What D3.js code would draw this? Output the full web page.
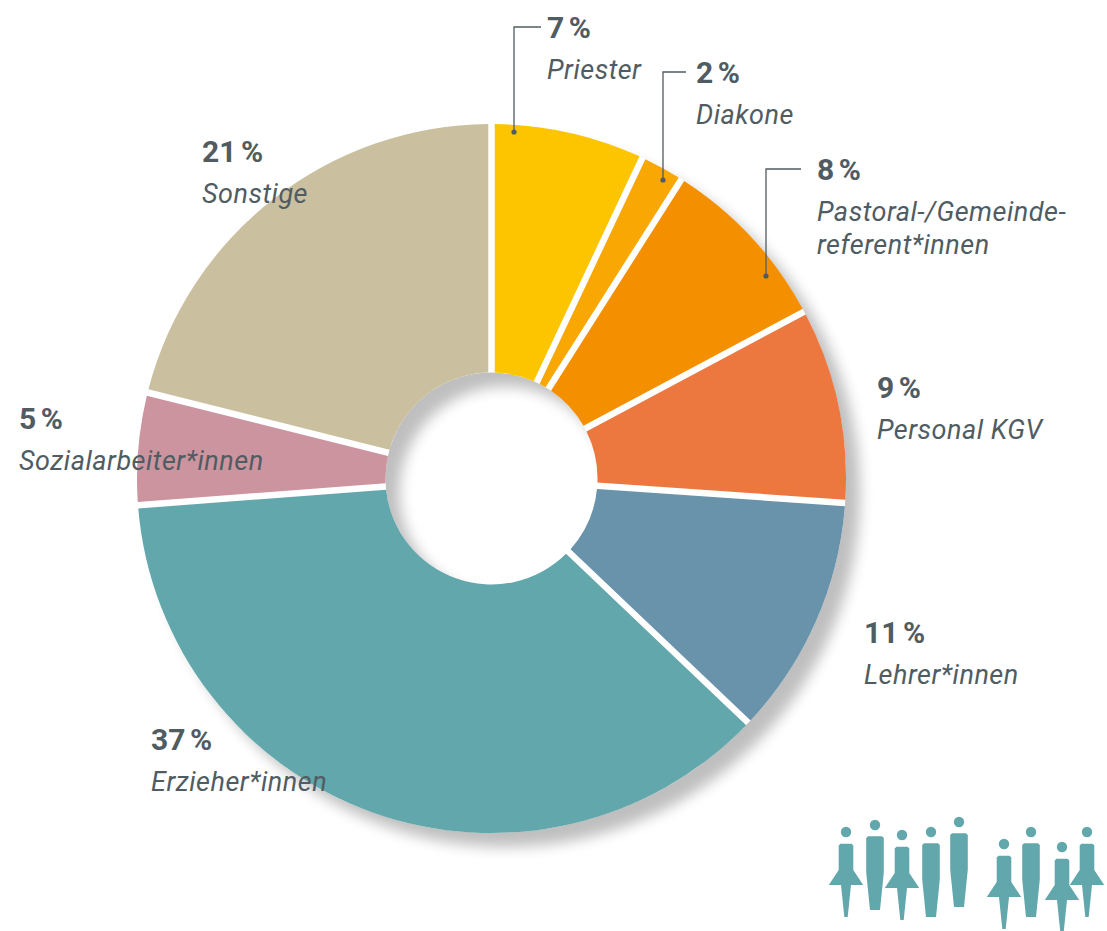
<!DOCTYPE html>
<html><head><meta charset="utf-8">
<script src="https://cdn.jsdelivr.net/npm/d3@7"></script>
<style>html,body{margin:0;background:#fff}svg{display:block}
text{font-family:Roboto,sans-serif;fill:#505c62}
.p{font-weight:700;font-size:30px;word-spacing:-3px}.n{font-style:italic;font-size:27px;letter-spacing:.5px}</style>
</head><body><svg id="c" width="1107" height="931"></svg>
<script>
const categories=["Priester","Diakone","Pastoral-/Gemeindereferent*innen","Personal KGV","Lehrer*innen","Erzieher*innen","Sozialarbeiter*innen","Sonstige"];
const shares=[7,2,8.2,8.9,11,36.7,5.1,21.1];
const percentLabels=["7 %","2 %","8 %","9 %","11 %","37 %","5 %","21 %"];
const nameLines=[["Priester"],["Diakone"],["Pastoral-/Gemeinde-","referent*innen"],["Personal KGV"],["Lehrer*innen"],["Erzieher*innen"],["Sozialarbeiter*innen"],["Sonstige"]];
const colors=["#fdc500","#f9a703","#f49000","#ec7840","#6893aa","#61a7ab","#cc949f","#cabf9e"];
const labelX=[547,696,817,877,864,151,19,202];
const labelY=[38,83,180,398,643,750,429,162];
const leaders=[[[541,27],[514,27],[514,132]],[[686,72],[663,72],[663,180]],[[801,169],[766,169],[766,276]]];
const people=[["s",846,832],["t",875,825],["s",902,835],["t",931,832],["t",959,822],["s",1004,844],["t",1031,832],["s",1062,847],["s",1087,832]];

const svg=d3.select("#c"),cx=491.5,cy=478.5,R=354.5,r=106;
const defs=svg.append("defs");
defs.append("filter").attr("id","blur").attr("x","-20%").attr("y","-20%").attr("width","140%").attr("height","140%")
  .append("feGaussianBlur").attr("stdDeviation",7);
const g=svg.append("g").attr("transform",`translate(${cx},${cy})`);
const ring=d3.arc().innerRadius(r).outerRadius(R).startAngle(0).endAngle(2*Math.PI);
g.append("path").attr("d",ring()).attr("fill","#000").attr("opacity",.25).attr("filter","url(#blur)").attr("transform","translate(14,14)");
g.append("path").attr("d",ring()).attr("fill","#fff");
const pie=d3.pie().sort(null).value(d=>d)(shares);
const arc=d3.arc().innerRadius(r).outerRadius(R).padAngle(6.5/R).padRadius(R);
g.selectAll(".s").data(pie).join("path").attr("class","s").attr("d",arc).attr("fill",(d,i)=>colors[i]);

const line=d3.line();
svg.selectAll(".l").data(leaders).join("path").attr("class","l").attr("d",line).attr("fill","none").attr("stroke","#505c62").attr("stroke-width",1.3);
svg.selectAll(".d").data(leaders).join("circle").attr("class","d").attr("cx",d=>d[2][0]).attr("cy",d=>d[2][1]).attr("r",2.6).attr("fill","#505c62");

categories.forEach((c,i)=>{
  svg.append("text").attr("class","p").attr("x",labelX[i]).attr("y",labelY[i]).text(percentLabels[i]);
  nameLines[i].forEach((t,j)=>svg.append("text").attr("class","n").attr("x",labelX[i]).attr("y",labelY[i]+41+j*33).text(t));
});

const fig=svg.append("g").attr("fill","#61a7ab");
people.forEach(([k,x,h])=>{
  fig.append("circle").attr("cx",x).attr("cy",h).attr("r",5.2);
  const pts=k==="s"
   ?[[-5.5,11.7],[5.5,11.7],[7.3,13.5],[7.3,38],[17.2,53],[5,53],[1.7,85],[-1.7,85],[-5,53],[-17.2,53],[-7.3,38],[-7.3,13.5]]
   :[[-7,11.3],[7,11.3],[8.8,13],[8.8,47.5],[5,85],[-5,85],[-8.8,47.5],[-8.8,13]];
  fig.append("path").attr("d",line(pts.map(p=>[x+p[0],h+p[1]]))+"Z");
});
</script></body></html>
